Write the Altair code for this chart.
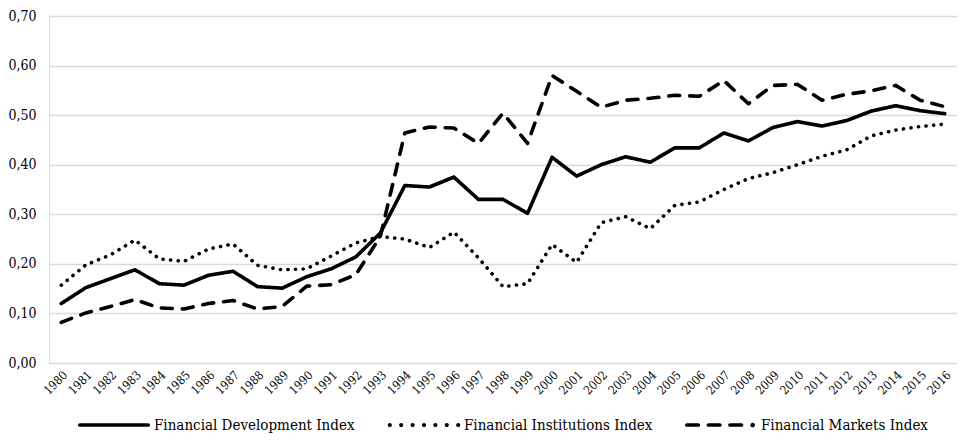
import altair as alt
import pandas as pd

years = list(range(1980, 2017))
series_names = ["Financial Development Index", "Financial Institutions Index", "Financial Markets Index"]
fd = [0.120, 0.152, 0.170, 0.188, 0.160, 0.157, 0.177, 0.185, 0.154, 0.151, 0.174, 0.190, 0.214, 0.262,
      0.358, 0.355, 0.375, 0.330, 0.330, 0.302, 0.415, 0.377, 0.400, 0.416, 0.405, 0.434, 0.434, 0.464,
      0.448, 0.475, 0.487, 0.478, 0.489, 0.508, 0.519, 0.509, 0.503]
fi = [0.157, 0.198, 0.218, 0.248, 0.210, 0.205, 0.230, 0.240, 0.197, 0.188, 0.190, 0.216, 0.242, 0.255,
      0.250, 0.233, 0.264, 0.212, 0.154, 0.160, 0.239, 0.203, 0.283, 0.295, 0.271, 0.318, 0.325, 0.350,
      0.372, 0.384, 0.400, 0.417, 0.430, 0.458, 0.470, 0.477, 0.482]
fm = [0.082, 0.101, 0.114, 0.128, 0.111, 0.109, 0.120, 0.126, 0.109, 0.114, 0.155, 0.158, 0.178, 0.255,
      0.464, 0.476, 0.474, 0.443, 0.504, 0.443, 0.580, 0.548, 0.516, 0.530, 0.534, 0.540, 0.538, 0.570,
      0.523, 0.560, 0.562, 0.530, 0.542, 0.549, 0.560, 0.530, 0.517]
line_dashes = [[1, 0], [0.1, 7.5], [11, 10]]
legend_offsets = [29, 339, 636]

rows = []
for name, vals in zip(series_names, [fd, fi, fm]):
    for y, v in zip(years, vals):
        rows.append({"year": str(y), "value": v, "series": name})
df = pd.DataFrame(rows)

FONT = "DejaVu Serif Condensed, DejaVu Serif, serif"


# legend sample glyphs (unit square -1..1, scaled by symbol size)
def seg(a, b, r=0.05):
    return (f"M{a + r},{-r} L{b - r},{-r} A{r},{r} 0 0 1 {b - r},{r} "
            f"L{a + r},{r} A{r},{r} 0 0 1 {a + r},{-r} Z ")


def dot(cx, r=0.058):
    return f"M{cx - r},0 A{r},{r} 0 1 0 {cx + r},0 A{r},{r} 0 1 0 {cx - r},0 Z "


glyphs = [
    seg(-1, 1),
    "".join(dot(-0.95 + k * 0.3167) for k in range(7)),
    seg(-1, -0.58) + seg(-0.4, 0.02) + seg(0.2, 0.62) + dot(0.88, 0.065),
]

x_enc = alt.X("year:O", scale=alt.Scale(type="point", padding=0.5),
              axis=alt.Axis(title=None, labelAngle=-45, domain=False, ticks=False, grid=False,
                            labelFont=FONT, labelFontSize=12, labelColor="black", labelPadding=6))
y_enc = alt.Y("value:Q", scale=alt.Scale(domain=[0, 0.7], nice=False),
              axis=alt.Axis(title=None, values=[0, 0.1, 0.2, 0.3, 0.4, 0.5, 0.6, 0.7],
                            labelExpr="replace(format(datum.value, '.2f'), '.', ',')",
                            domain=False, ticks=False, grid=True, gridColor="#d9d9d9", gridWidth=1.3,
                            labelFont=FONT, labelFontSize=14, labelColor="black", labelPadding=13))

layers = []
for name, dash in zip(series_names, line_dashes):
    layers.append(
        alt.Chart(df).transform_filter(alt.datum.series == name).mark_line(
            color="black", strokeWidth=3.6, strokeCap="round", strokeJoin="round", strokeDash=dash
        ).encode(x=x_enc, y=y_enc)
    )

for name, glyph, lx in zip(series_names, glyphs, legend_offsets):
    layers.append(
        alt.Chart(df).transform_filter(alt.datum.series == name).mark_point(
            filled=True, color="black", opacity=0
        ).encode(
            x=x_enc, y=y_enc,
            shape=alt.Shape(
                "series:N",
                scale=alt.Scale(domain=[name], range=[glyph]),
                legend=alt.Legend(title=None, orient="none", direction="horizontal",
                                  legendX=lx, legendY=373, symbolSize=5184, symbolOpacity=1,
                                  symbolFillColor="black", symbolStrokeWidth=0,
                                  labelFont=FONT, labelFontSize=15, labelColor="black",
                                  labelLimit=500, labelOffset=4),
            ),
        )
    )

chart = alt.layer(*layers).resolve_scale(shape="independent").resolve_legend(
    shape="independent"
).properties(
    width=908, height=347,
    padding={"left": 41, "top": 8, "right": 0, "bottom": 70},
    autosize=alt.AutoSizeParams(type="none"),
).configure_view(stroke=None).configure(background="white")

chart.save("out.html", embed_options={"renderer": "svg", "actions": False})
